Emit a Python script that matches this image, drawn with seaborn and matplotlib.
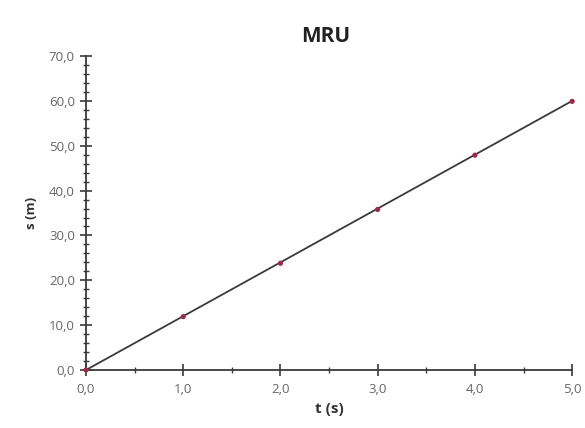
import matplotlib
matplotlib.use("Agg")
import matplotlib.pyplot as plt
import seaborn as sns
from matplotlib.ticker import MultipleLocator, FuncFormatter

# data
t_values = [0.0, 1.0, 2.0, 3.0, 4.0, 5.0]
s_values = [0.0, 11.9, 23.8, 35.8, 47.9, 59.9]
fit_t = [0.0, 5.0]
fit_s = [0.0, 60.0]

sns.set_style("ticks")
plt.rcParams['font.family'] = ['Open Sans', 'DejaVu Sans']

fig = plt.figure(figsize=(5.85, 4.28), dpi=100)
ax = fig.add_axes([0.147, 0.1355, 0.831, 0.7335])

sns.lineplot(x=fit_t, y=fit_s, ax=ax, color="#3a3a3a", linewidth=1.3)
sns.scatterplot(x=t_values, y=s_values, ax=ax, color="#a0284a", s=14,
                edgecolor="none", zorder=3, clip_on=False)

ax.set_xlim(0, 5)
ax.set_ylim(0, 70)
ax.xaxis.set_major_locator(MultipleLocator(1))
ax.xaxis.set_minor_locator(MultipleLocator(0.5))
ax.yaxis.set_major_locator(MultipleLocator(10))
ax.yaxis.set_minor_locator(MultipleLocator(2))
fmt = FuncFormatter(lambda v, p: f"{v:.1f}".replace(".", ","))
ax.xaxis.set_major_formatter(fmt)
ax.yaxis.set_major_formatter(fmt)

ax.tick_params(which="major", direction="inout", length=9, width=1.2,
               color="#3a3a3a", labelsize=9.5, labelcolor="#666666")
ax.tick_params(which="minor", direction="inout", length=5, width=1.0, color="#3a3a3a")
ax.tick_params(axis="x", which="major", pad=5)
for side in ["top", "right"]:
    ax.spines[side].set_visible(False)
for side in ["left", "bottom"]:
    ax.spines[side].set_color("#3a3a3a")
    ax.spines[side].set_linewidth(1.3)

ax.set_xlabel("t (s)", fontsize=11, fontweight="bold", color="#333333")
ax.set_ylabel("s (m)", fontsize=9.5, fontweight="bold", color="#333333", labelpad=8)
fig.text(0.556, 0.915, "MRU", fontsize=15, fontweight="bold", color="#222222",
         ha="center", va="center")

fig.savefig("out.png", dpi=100)
